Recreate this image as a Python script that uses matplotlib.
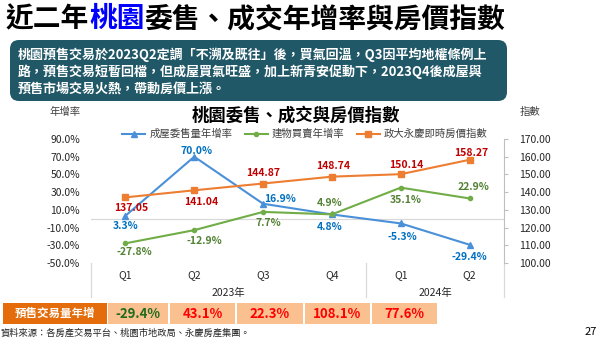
import matplotlib
matplotlib.use('Agg')
import matplotlib.pyplot as plt
import matplotlib.transforms as mtransforms
from matplotlib.patches import FancyBboxPatch, Rectangle

plt.rcParams['font.family'] = ['Noto Sans CJK TC', 'DejaVu Sans']
plt.rcParams['axes.unicode_minus'] = False

# Data
quarters = ['Q1', 'Q2', 'Q3', 'Q4', 'Q1', 'Q2']
years = ['2023年', '2024年']
year_spans = [(0, 3), (4, 5)]
resale_yoy = [3.3, 70.0, 16.9, 4.8, -5.3, -29.4]      # 成屋委售量年增率
transfer_yoy = [-27.8, -12.9, 7.7, 4.9, 35.1, 22.9]   # 建物買賣年增率
price_index = [137.05, 141.04, 144.87, 148.74, 150.14, 158.27]  # 政大永慶即時房價指數
presale_yoy = [-29.4, 43.1, 22.3, 108.1, 77.6]        # 預售交易量年增
left_ticks = [-50, -30, -10, 10, 30, 50, 70, 90]
right_ticks = [100, 110, 120, 130, 140, 150, 160, 170]

# label offsets in pixels (style)
blue_off = [(0, -10), (2, 6), (17, 5), (-2, -13), (2, -14), (0, -12)]
green_off = [(9, -9), (10, -11), (5, -11), (-2, 11), (5, -12), (4, 11)]
orange_off = [(6, -11), (7, -12), (0, 11), (1, 11), (5, 9), (2, 7)]

c_blue, c_green, c_orange = '#4A90D9', '#70AD47', '#ED7D31'

fig = plt.figure(figsize=(6, 3.4), dpi=100)

# background layer in pixel coordinates
bg = fig.add_axes([0, 0, 1, 1], zorder=-1)
bg.set_xlim(0, 600)
bg.set_ylim(340, 0)
bg.axis('off')

# title with blue keyword
t1 = bg.text(6, 19, '近二年', fontsize=20, weight='bold', va='center', color='black')
t2 = bg.annotate('桃園', xy=(1, 0), xycoords=t1, va='bottom', fontsize=20,
                 weight='bold', color='#0000FF')
bg.annotate('委售、成交年增率與房價指數', xy=(1, 0), xycoords=t2, va='bottom',
            fontsize=20, weight='bold', color='black')

# summary box
bg.add_patch(FancyBboxPatch((10, 40), 497, 61, boxstyle='round,pad=0,rounding_size=9',
                            fc='#215867', ec='none'))
box_lines = ['桃園預售交易於2023Q2定調「不溯及既往」後，買氣回溫，Q3因平均地權條例上',
             '路，預售交易短暫回檔，但成屋買氣旺盛，加上新青安促動下，2023Q4後成屋與',
             '預售市場交易火熱，帶動房價上漲。']
for i, line in enumerate(box_lines):
    bg.text(18, 55 + i * 17, line, fontsize=9.4, weight='bold', color='white', va='center')

# chart title / axis captions
bg.text(296, 116, '桃園委售、成交與房價指數', fontsize=12.5, weight='bold', ha='center', va='center')
bg.text(65, 112, '年增率', fontsize=7.5, ha='center', va='center', color='#404040')
bg.text(530, 112, '指數', fontsize=7.5, ha='center', va='center', color='#404040')

# main chart
ax = fig.add_axes([91 / 600, 1 - 263 / 340, 413 / 600, 124 / 340])
ax.set_facecolor('none')
ax2 = ax.twinx()
x = list(range(len(quarters)))

l1, = ax.plot(x, resale_yoy, color=c_blue, lw=1.5, marker='^', ms=5, label='成屋委售量年增率', zorder=3)
l2, = ax.plot(x, transfer_yoy, color=c_green, lw=1.5, marker='o', ms=3, label='建物買賣年增率', zorder=3)
l3, = ax2.plot(x, price_index, color=c_orange, lw=1.5, marker='s', ms=4.5, label='政大永慶即時房價指數')

for xi, v, off in zip(x, resale_yoy, blue_off):
    ax.annotate(f'{v:.1f}%', (xi, v), xytext=off, textcoords='offset pixels', ha='center',
                va='center', fontsize=7.5, weight='bold', color='#0070C0')
for xi, v, off in zip(x, transfer_yoy, green_off):
    ax.annotate(f'{v:.1f}%', (xi, v), xytext=off, textcoords='offset pixels', ha='center',
                va='center', fontsize=7.5, weight='bold', color='#548235')
for xi, v, off in zip(x, price_index, orange_off):
    ax2.annotate(f'{v:.2f}', (xi, v), xytext=off, textcoords='offset pixels', ha='center',
                 va='center', fontsize=7.5, weight='bold', color='#C00000')

ax.set_xlim(-0.5, len(quarters) - 0.5)
ax.set_ylim(-50, 90)
ax2.set_ylim(100, 170)
ax.set_yticks(left_ticks, [f'{v:.1f}%' for v in left_ticks])
ax2.set_yticks(right_ticks, [f'{v:.2f}' for v in right_ticks])
ax.set_xticks(x, quarters)
ax.tick_params(axis='y', length=0, pad=8, labelsize=7.5, labelcolor='#262626')
ax.tick_params(axis='x', length=0, pad=5, labelsize=7.5, labelcolor='#262626')
ax2.tick_params(axis='y', length=3, color='#BFBFBF', pad=8, labelsize=7.5, labelcolor='#262626')
for a in (ax, ax2):
    for s in a.spines.values():
        s.set_visible(False)
ax2.spines['right'].set_visible(True)
ax2.spines['right'].set_color('#BFBFBF')
ax.axhline(0, color='#D9D9D9', lw=0.9, zorder=1)

# category separators and year labels
trans = mtransforms.blended_transform_factory(ax.transData, ax.transAxes)
for xs in (-0.5, year_spans[0][1] + 0.5, year_spans[1][1] + 0.5):
    ax.plot([xs, xs], [0, -0.275], transform=trans, color='#D9D9D9', lw=0.9, clip_on=False)
for (a, b), label in zip(year_spans, years):
    ax.text((a + b) / 2, -0.243, label, transform=trans, ha='center', va='center',
            fontsize=7.5, color='#262626')

fig.legend(handles=[l1, l2, l3], loc='center', bbox_to_anchor=(305 / 600, 1 - 134 / 340),
           ncol=3, frameon=False, fontsize=7.5, handlelength=2.2, columnspacing=1.2,
           handletextpad=0.4, labelcolor='#404040')

# presale table
edges = [107, 169, 236, 304, 371, 438]
bg.add_patch(Rectangle((3, 303), 104, 21, fc='#E46C0A', ec='none'))
bg.text(55, 313.5, '預售交易量年增', fontsize=8.3, weight='bold', color='white', ha='center', va='center')
for i, v in enumerate(presale_yoy):
    bg.add_patch(Rectangle((edges[i] + 1, 303), edges[i + 1] - edges[i] - 2, 21, fc='#FAC090', ec='none'))
    bg.text((edges[i] + edges[i + 1]) / 2, 313.5, f'{v:.1f}%', fontsize=9.5, weight='bold',
            ha='center', va='center', color='#1E6B1E' if v < 0 else '#FF0000')

bg.text(1, 333, '資料來源：各房產交易平台、桃園市地政局、永慶房產集團。', fontsize=6.7,
        va='center', color='#262626')
bg.text(597, 332, '27', fontsize=8, ha='right', va='center')

fig.savefig('out.png', dpi=100)
